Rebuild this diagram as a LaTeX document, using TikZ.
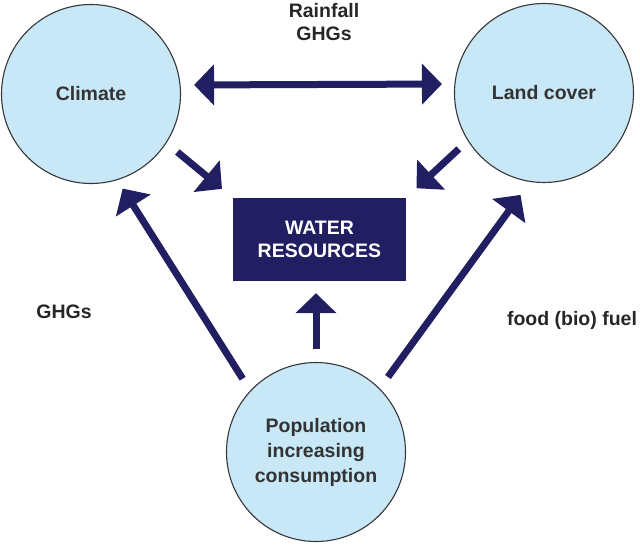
\documentclass[tikz,border=0pt]{standalone}
\usepackage{fontspec}
\setmainfont{Liberation Sans}
\usetikzlibrary{arrows.meta}
\definecolor{navy}{RGB}{34,30,98}
\definecolor{paleblue}{RGB}{200,232,248}
\definecolor{rimgray}{RGB}{55,55,55}
\begin{document}
\begin{tikzpicture} [
                x=1pt, y=-1pt,
                font=\bfseries\fontsize{19.5}{23}\selectfont,
                factor/.style={circle,draw=rimgray,line width=1.1pt,fill=paleblue,
                    text=black!80,minimum size=179pt,inner sep=0pt,align=center},
                target/.style={rectangle,fill=navy,text=white,minimum width=173pt,
                    minimum height=83pt,inner sep=0pt,align=center},
                note/.style={text=black!85,align=center,inner sep=0pt},
                link/.style={draw=navy,line width=7pt,-{Triangle[length=20pt,width=40pt]}},
            ]
            \useasboundingbox (0,0) rectangle (640,544);
            % First we draw the circles and the box
            \foreach \pos/\name/\txt in {
                    {(91,94)/clim/Climate}, {(544,93)/land/Land cover}}
                \node[factor] (\name) at \pos {\txt};
            \node[factor,font=\bfseries\fontsize{19.5}{25}\selectfont] (pop) at (316,452)
                {Population\\increasing\\consumption};
            \node[target] (water) at (319.5,239.5) {WATER\\RESOURCES};
            % Labels beside the arrows
            \node[note] (rain) at (324,22) {Rainfall\\GHGs};
            \node[note] (ghg) at (64,312) {GHGs};
            \node[note] (fuel) at (572,320) {food (bio) fuel};
            % Connect them with arrows
            \path[link,{Triangle[length=20pt,width=40pt]}-{Triangle[length=20pt,width=40pt]},
                shorten <=13pt, shorten >=12pt]
                ([yshift=9pt]clim.east) -- ([yshift=9pt]land.west);
            \foreach \source/\sa/\dest/\da/\s/\t in {
                    clim/-33/water/north west/14/14, land/212/water/north east/12/14,
                    pop/137/clim/-73/14/10, pop/45/land/261/14/16}
                \path[link, shorten <=\s pt, shorten >=\t pt] (\source.\sa) -- (\dest.\da);
            \path[link, shorten <=13pt, shorten >=12pt] (pop.north) -- (pop.north |- water.south);
        \end{tikzpicture}
\end{document}
